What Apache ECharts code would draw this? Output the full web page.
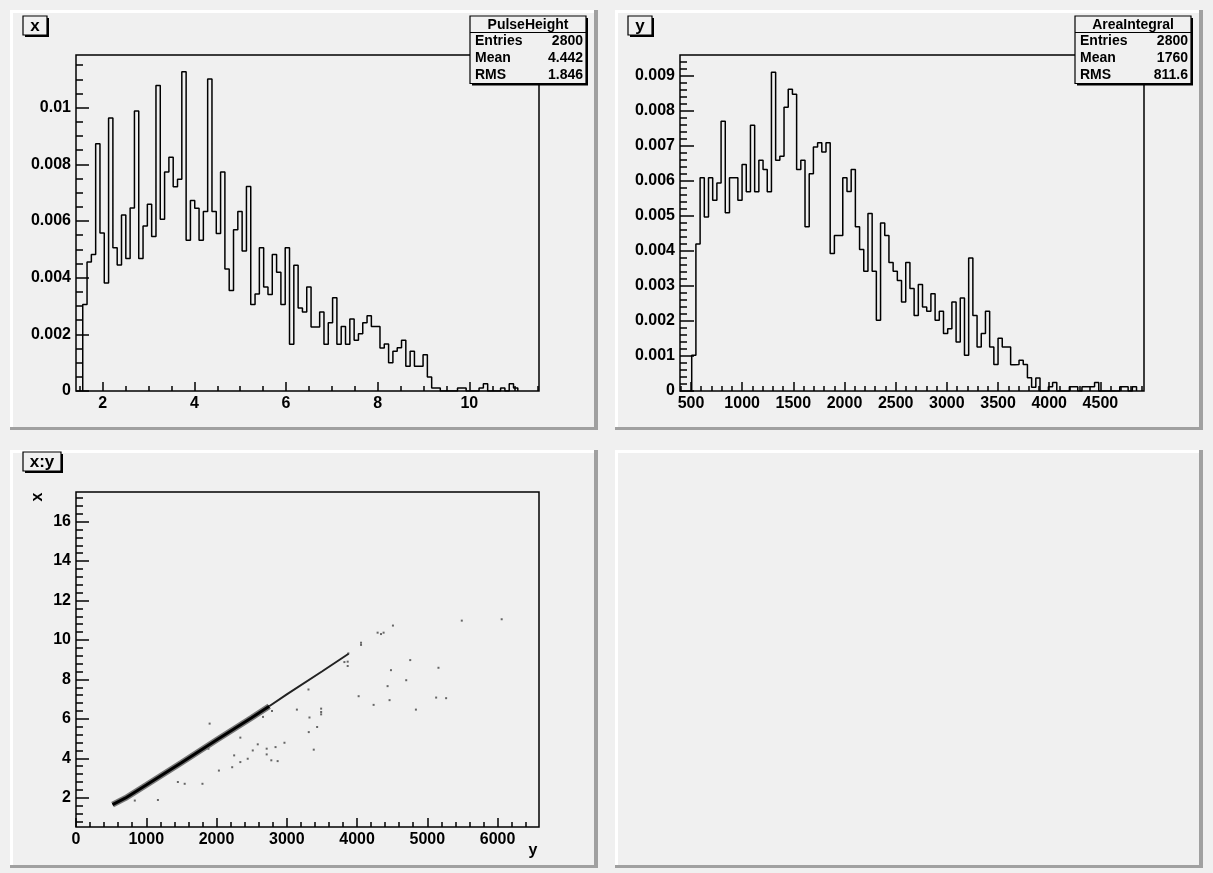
<!DOCTYPE html>
<html>
<head>
<meta charset="utf-8">
<title>PulseHeight / AreaIntegral</title>
<script src="https://cdn.jsdelivr.net/npm/echarts@6/dist/echarts.min.js"></script>
<style>
	html, body { margin: 0; padding: 0; background: #f0f0f0; }
	#main { width: 1213px; height: 873px; }
</style>
</head>
<body>
<div id="main"></div>
<script>
// PulseHeight (x) - bin contents
var phStart = 1.564;
var phWidth = 0.094;
var phValues = [
	0.00305, 0.00455, 0.00482, 0.00873, 0.00558, 0.00381, 0.00964, 0.00506, 0.00445, 0.00621,
	0.00468, 0.00646, 0.00988, 0.00468, 0.00582, 0.00659, 0.00545, 0.01078, 0.00606, 0.00773,
	0.00825, 0.00721, 0.00747, 0.01127, 0.00532, 0.00672, 0.00645, 0.00532, 0.00634, 0.01101,
	0.00634, 0.00556, 0.00773, 0.00431, 0.00355, 0.00569, 0.00634, 0.00494, 0.00722, 0.00305,
	0.00342, 0.00506, 0.00367, 0.00341, 0.00482, 0.00419, 0.00305, 0.00506, 0.00165, 0.00444,
	0.00293, 0.00279, 0.00367, 0.00226, 0.00226, 0.00279, 0.00165, 0.00241, 0.00329, 0.00165,
	0.00228, 0.00165, 0.00254, 0.00179, 0.00202, 0.00241, 0.00266, 0.00228, 0.00228, 0.00152,
	0.00166, 0.00100, 0.00140, 0.00153, 0.00179, 0.00087, 0.00140, 0.00087, 0.00087, 0.00128,
	0.00049, 0.00011, 0.00011, 0, 0, 0, 0, 0.00011, 0.00011, 0,
	0, 0, 0.00011, 0.00026, 0, 0, 0, 0.00011, 0, 0.00026,
	0.00011
];
var phXTicks = [2, 4, 6, 8, 10];
var phYTicks = [0, 0.002, 0.004, 0.006, 0.008, 0.01];
var phStats = [['Entries', '2800'], ['Mean', '4.442'], ['RMS', '1.846']];

// AreaIntegral (y)
var aiStart = 507;
var aiWidth = 41;
var aiValues = [
	0.00102, 0.00420, 0.00609, 0.00497, 0.00609, 0.00545, 0.00594, 0.00771, 0.00509, 0.00609,
	0.00609, 0.00545, 0.00647, 0.00569, 0.00759, 0.00569, 0.00659, 0.00633, 0.00569, 0.00911,
	0.00659, 0.00671, 0.00811, 0.00862, 0.00848, 0.00633, 0.00659, 0.00469, 0.00621, 0.00697,
	0.00709, 0.00683, 0.00709, 0.00393, 0.00444, 0.00444, 0.00609, 0.00570, 0.00633, 0.00469,
	0.00404, 0.00342, 0.00507, 0.00342, 0.00202, 0.00480, 0.00444, 0.00367, 0.00342, 0.00316,
	0.00254, 0.00367, 0.00293, 0.00216, 0.00304, 0.00240, 0.00228, 0.00278, 0.00202, 0.00228,
	0.00164, 0.00178, 0.00254, 0.00140, 0.00266, 0.00102, 0.00380, 0.00216, 0.00126, 0.00164,
	0.00228, 0.00126, 0.00076, 0.00151, 0.00126, 0.00126, 0.00075, 0.00076, 0.00088, 0.00076,
	0.00038, 0.00011, 0.00037, 0, 0, 0.00012, 0.00024, 0, 0, 0,
	0.00012, 0.00012, 0, 0.00012, 0.00012, 0.00012, 0.00024, 0, 0, 0,
	0, 0, 0.00012, 0.00012, 0, 0.00012
];
var aiXTicks = [500, 1000, 1500, 2000, 2500, 3000, 3500, 4000, 4500];
var aiYTicks = [0, 0.001, 0.002, 0.003, 0.004, 0.005, 0.006, 0.007, 0.008, 0.009];
var aiStats = [['Entries', '2800'], ['Mean', '1760'], ['RMS', '811.6']];

// x:y scatter - [y, x]
var bandDense = [[520, 1.65], [700, 1.98], [1000, 2.65], [1500, 3.78], [2000, 4.93], [2500, 6.06], [2750, 6.64]];
var bandThin = [[2750, 6.64], [3000, 7.24], [3500, 8.4], [3880, 9.3]];
var strayPoints = [
	[5491, 10.98], [6059, 11.05], [4511, 10.73], [4293, 10.37], [4341, 10.30], [4378, 10.37],
	[4057, 9.86], [4057, 9.75], [3877, 9.32], [3867, 8.90], [3867, 8.68], [3820, 8.88],
	[4757, 8.98], [5159, 8.59], [4483, 8.47], [4700, 7.96], [4435, 7.66], [5126, 7.08],
	[5268, 7.05], [4023, 7.15], [4463, 6.95], [4236, 6.71], [4838, 6.47], [3489, 6.52],
	[3489, 6.35], [3489, 6.23], [3323, 6.07], [3432, 5.59], [3313, 5.33], [3384, 4.44],
	[3309, 7.49], [3144, 6.47], [2967, 4.79], [2840, 4.57], [2714, 4.49], [2587, 4.71],
	[2714, 4.20], [2780, 3.90], [2870, 3.86], [2516, 4.40], [2444, 3.98], [2339, 3.81],
	[2223, 3.55], [2251, 4.15], [2339, 5.05], [2662, 6.10], [2790, 6.40], [2034, 3.38],
	[1800, 2.71], [1547, 2.71], [1450, 2.80], [1166, 1.89], [837, 1.86], [1902, 5.76],
	[1885, 4.49]
];
var xyXTicks = [0, 1000, 2000, 3000, 4000, 5000, 6000];
var xyYTicks = [2, 4, 6, 8, 10, 12, 14, 16];

var FONT = '"Liberation Sans", Arial, Helvetica, sans-serif';
var PAD_FILL = '#f0f0f0';

var myChart = echarts.init(document.getElementById('main'), null, { renderer: 'canvas' });

// histogram outline as a step line: left edges + closing edge
function stepData(start, width, values) {
	var pts = [[start, 0]];
	for (var i = 0; i < values.length; i++) {
		pts.push([+(start + i * width).toFixed(4), values[i]]);
	}
	var end = +(start + values.length * width).toFixed(4);
	pts.push([end, values[values.length - 1]]);
	pts.push([end, 0]);
	return pts;
}

// minor tick positions, multiples of step inside [lo, hi]
function minorTicks(lo, hi, step) {
	var out = [];
	for (var k = Math.ceil(lo / step); k * step <= hi; k++) {
		out.push(+(k * step).toFixed(6));
	}
	return out;
}

// main axis (labels + long ticks) and an overlay axis with short ticks
function axisPair(dim, grid, min, max, major, minorStep, majorLen, minorLen) {
	var pos = dim == 'x' ? 'bottom' : 'left';
	var main = {
		type: 'value', gridIndex: grid, min: min, max: max, position: pos,
		axisLine: { show: false }, splitLine: { show: false },
		axisTick: { show: true, inside: true, length: majorLen, customValues: major, lineStyle: { color: '#000', width: 1.5 } },
		axisLabel: {
			show: true, customValues: major, margin: 5, color: '#000',
			fontFamily: FONT, fontWeight: 'bold', fontSize: 16,
			formatter: function(v) { return String(v); }
		}
	};
	var minor = {
		type: 'value', gridIndex: grid, min: min, max: max, position: pos,
		axisLine: { show: false }, splitLine: { show: false },
		axisTick: { show: true, inside: true, length: minorLen, customValues: minorTicks(min, max, minorStep), lineStyle: { color: '#000', width: 1.5 } },
		axisLabel: { show: false }
	};
	return [main, minor];
}

// pad with bevel border
function pad(x0, y0, x1, y1) {
	var w = x1 - x0, h = y1 - y0;
	return [
		{ type: 'rect', z: -10, shape: { x: x0, y: y0, width: w, height: h }, style: { fill: PAD_FILL } },
		{ type: 'rect', z: -9, shape: { x: x0, y: y0, width: w, height: 3 }, style: { fill: '#ffffff' } },
		{ type: 'rect', z: -9, shape: { x: x0, y: y0, width: 3, height: h }, style: { fill: '#ffffff' } },
		{ type: 'rect', z: -9, shape: { x: x0, y: y1 - 3, width: w, height: 3 }, style: { fill: '#a0a0a0' } },
		{ type: 'rect', z: -9, shape: { x: x1 - 4, y: y0, width: 4, height: h }, style: { fill: '#a0a0a0' } }
	];
}

// title box with shadow
function titleBox(x, y, w, h, text) {
	return [
		{ type: 'rect', z: 50, shape: { x: x + 2, y: y + 2, width: w, height: h }, style: { fill: '#000' } },
		{ type: 'rect', z: 51, shape: { x: x, y: y, width: w, height: h }, style: { fill: PAD_FILL, stroke: '#000', lineWidth: 1.2 } },
		{ type: 'text', z: 52, x: x + w / 2, y: y + h / 2 + 1, style: { text: text, fill: '#000', font: 'bold 17px ' + FONT, align: 'center', verticalAlign: 'middle' } }
	];
}

// statistics box
function statBox(x, y, title, rows) {
	var w = 116, rowH = 17, headH = 16.5;
	var h = headH + rows.length * rowH;
	var els = [
		{ type: 'rect', z: 50, shape: { x: x + 2, y: y + 2, width: w, height: h }, style: { fill: '#000' } },
		{ type: 'rect', z: 51, shape: { x: x, y: y, width: w, height: h }, style: { fill: PAD_FILL, stroke: '#000', lineWidth: 1.2 } },
		{ type: 'line', z: 52, shape: { x1: x, y1: y + headH, x2: x + w, y2: y + headH }, style: { stroke: '#000', lineWidth: 1.2 } },
		{ type: 'text', z: 52, x: x + w / 2, y: y + headH / 2 + 1, style: { text: title, fill: '#000', font: 'bold 14px ' + FONT, align: 'center', verticalAlign: 'middle' } }
	];
	for (var i = 0; i < rows.length; i++) {
		var cy = y + headH + rowH * i + rowH / 2 + 0.5;
		els.push({ type: 'text', z: 52, x: x + 5, y: cy, style: { text: rows[i][0], fill: '#000', font: 'bold 14px ' + FONT, align: 'left', verticalAlign: 'middle' } });
		els.push({ type: 'text', z: 52, x: x + w - 3, y: cy, style: { text: rows[i][1], fill: '#000', font: 'bold 14px ' + FONT, align: 'right', verticalAlign: 'middle' } });
	}
	return els;
}

var frame = { show: true, borderColor: '#000', borderWidth: 1.5, backgroundColor: 'transparent' };

var xAxes = [].concat(
	axisPair('x', 0, 1.417, 11.52, phXTicks, 0.5, 9, 5),
	axisPair('x', 1, 392.6, 4926, aiXTicks, 100, 9, 5),
	axisPair('x', 2, 0, 6590, xyXTicks, 200, 9, 5)
);
var yAxes = [].concat(
	axisPair('y', 0, 0, 0.01186, phYTicks, 0.0005, 13, 7),
	axisPair('y', 1, 0, 0.0096, aiYTicks, 0.0002, 14, 7),
	axisPair('y', 2, 0.52, 17.5, xyYTicks, 0.4, 13, 7)
);

var graphics = [].concat(
	pad(10, 10, 598, 430),
	pad(615, 10, 1203, 430),
	pad(10, 450, 598, 868),
	pad(615, 450, 1203, 868),
	titleBox(23, 16, 24, 19, 'x'),
	titleBox(628, 16, 24, 19, 'y'),
	titleBox(23, 452, 38, 19, 'x:y'),
	statBox(470, 16, 'PulseHeight', phStats),
	statBox(1075, 16, 'AreaIntegral', aiStats),
	[
		{ type: 'text', z: 20, x: 38, y: 497, rotation: Math.PI / 2, style: { text: 'x', fill: '#000', font: 'bold 16px ' + FONT, align: 'center', verticalAlign: 'middle' } },
		{ type: 'text', z: 20, x: 533, y: 851, style: { text: 'y', fill: '#000', font: 'bold 16px ' + FONT, align: 'center', verticalAlign: 'middle' } }
	]
);

var option = {
	animation: false,
	backgroundColor: '#f0f0f0',
	grid: [
		Object.assign({ left: 76, top: 55, width: 463, height: 336 }, frame),
		Object.assign({ left: 680, top: 55, width: 464, height: 336 }, frame),
		Object.assign({ left: 76, top: 492, width: 463, height: 335 }, frame)
	],
	xAxis: xAxes,
	yAxis: yAxes,
	graphic: { elements: graphics },
	series: [{
		name: 'PulseHeight',
		type: 'line',
		xAxisIndex: 0,
		yAxisIndex: 0,
		step: 'end',
		symbol: 'none',
		lineStyle: { color: '#000', width: 1.5 },
		data: stepData(phStart, phWidth, phValues)
	}, {
		name: 'AreaIntegral',
		type: 'line',
		xAxisIndex: 2,
		yAxisIndex: 2,
		step: 'end',
		symbol: 'none',
		lineStyle: { color: '#000', width: 1.5 },
		data: stepData(aiStart, aiWidth, aiValues)
	}, {
		// soft edge of the dense band
		name: 'bandHalo',
		type: 'line',
		xAxisIndex: 4,
		yAxisIndex: 4,
		symbol: 'none',
		lineStyle: { color: '#777', width: 6 },
		data: bandDense
	}, {
		name: 'band',
		type: 'line',
		xAxisIndex: 4,
		yAxisIndex: 4,
		symbol: 'none',
		lineStyle: { color: '#000', width: 3 },
		data: bandDense
	}, {
		name: 'bandThin',
		type: 'line',
		xAxisIndex: 4,
		yAxisIndex: 4,
		symbol: 'none',
		lineStyle: { color: '#222', width: 2 },
		data: bandThin
	}, {
		name: 'x:y',
		type: 'scatter',
		xAxisIndex: 4,
		yAxisIndex: 4,
		symbol: 'rect',
		symbolSize: 2,
		itemStyle: { color: '#444' },
		data: strayPoints
	}]
};
myChart.setOption(option);
</script>
</body>
</html>
